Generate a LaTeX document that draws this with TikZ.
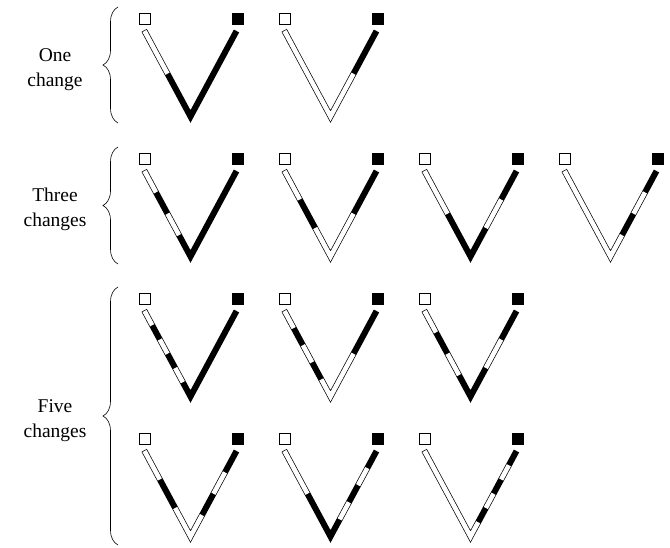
\documentclass[tikz,border=0pt]{standalone}
\usepackage{fontspec}
\setmainfont{Liberation Serif}
\usetikzlibrary{calc,decorations.pathreplacing}

\tikzset{
  arm/.style={line width=6pt, black, line join=miter},
  gap/.style={line width=4.6pt, white, line join=miter},
  endbox/.style={draw, line width=0.6pt, minimum size=11pt, inner sep=0pt},
  curly/.style={decorate, decoration={brace, amplitude=15pt}, line width=0.6pt},
  tag/.style={align=center, font=\fontsize{19.5}{25}\selectfont}
}

% one V: name, top of its left arm, white stretches a/b (0 = left top, 0.5 = vertex, 1 = right top)
\newcommand{\chromV}[4]{%
  \begin{scope}[shift={(#2,#3)}]
    \coordinate (lt) at (0,0);
    \coordinate (vx) at (46,85.5);
    \coordinate (rt) at (92,0);
    \node[endbox, fill=white] (#1w) at (0,-12.5) {};
    \node[endbox, fill=black] (#1b) at (93,-12.5) {};
    \draw[arm] ($(lt)!-0.7pt!(vx)$) -- (vx) -- (rt);
    \foreach \a/\b in {#4} {
      \pgfmathsetmacro\fa{2*\a}
      \pgfmathsetmacro\fb{2*\b}
      \pgfmathsetmacro\ga{2*\a-1}
      \pgfmathsetmacro\gb{2*\b-1}
      \ifdim\b pt>0.5pt
        \ifdim\a pt<0.5pt
          \draw[gap] ($(lt)!\fa!(vx)$) -- (vx) -- ($(vx)!\gb!(rt)$);
        \else
          \draw[gap] ($(vx)!\ga!(rt)$) -- ($(vx)!\gb!(rt)$);
        \fi
      \else
        \draw[gap] ($(lt)!\fa!(vx)$) -- ($(lt)!\fb!(vx)$);
      \fi
    }
  \end{scope}}

\begin{document}
\begin{tikzpicture}[x=1pt, y=-1pt]
  \useasboundingbox (0,0) rectangle (670,548);

  % labels and braces
  \node[tag] (one) at (55,70) {One\\change};
  \node[tag] (three) at (55,209) {Three\\changes};
  \node[tag] (five) at (55,421) {Five\\changes};
  \draw[curly] (118,123) -- (118,7);
  \draw[curly] (118,264) -- (118,147);
  \draw[curly] (118,545) -- (118,287);

  % one change
  \chromV{va}{144.5}{31}{0/0.25}
  \chromV{vb}{284.5}{31}{0/0.75}
  % three changes
  \chromV{vc}{144.5}{171}{0/0.125, 0.25/0.375}
  \chromV{vd}{284.5}{171}{0/0.1667, 0.3333/0.75}
  \chromV{ve}{424.5}{171}{0/0.25, 0.6667/0.8333}
  \chromV{vf}{564.5}{171}{0/0.625, 0.75/0.875}
  % five changes
  \chromV{vg}{144.5}{311}{0/0.0833, 0.1667/0.25, 0.3333/0.4167}
  \chromV{vh}{284.5}{311}{0/0.1, 0.2/0.3, 0.4/0.75}
  \chromV{vi}{424.5}{311}{0/0.125, 0.25/0.375, 0.6667/0.8333}
  \chromV{vj}{144.5}{451}{0/0.1667, 0.3333/0.625, 0.75/0.875}
  \chromV{vk}{284.5}{451}{0/0.25, 0.6/0.7, 0.8/0.9}
  \chromV{vl}{424.5}{451}{0/0.5833, 0.6667/0.75, 0.8333/0.9167}
\end{tikzpicture}
\end{document}
